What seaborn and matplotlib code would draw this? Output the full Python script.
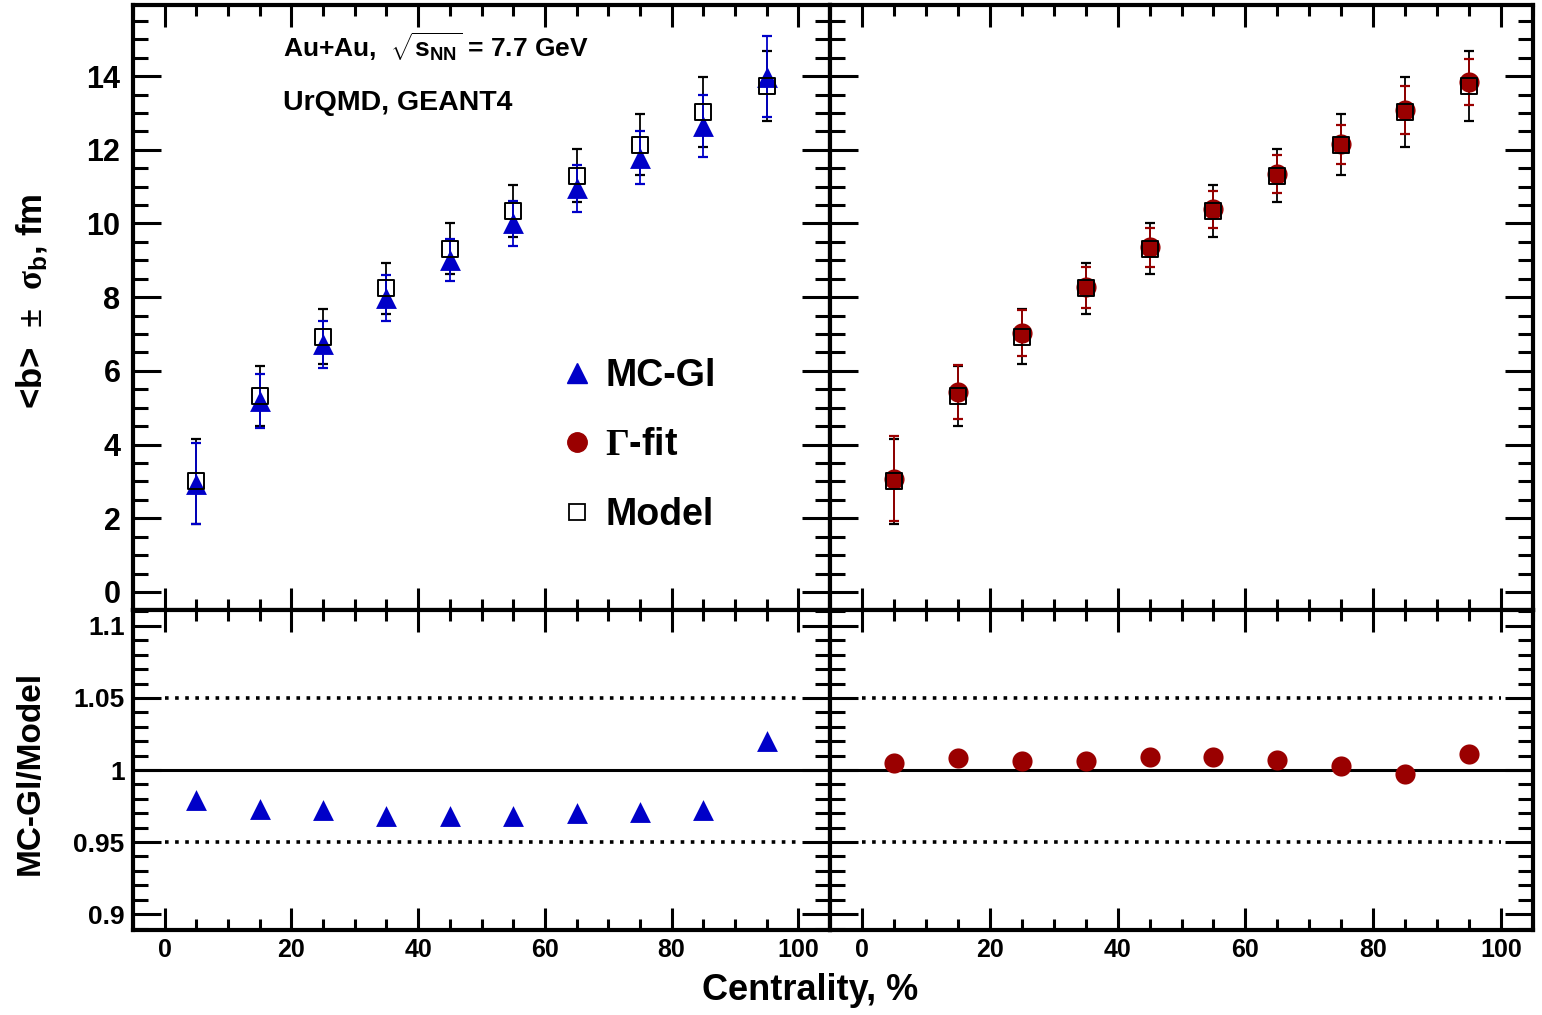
import numpy as np
import pandas as pd
import matplotlib
matplotlib.use("Agg")
import matplotlib.pyplot as plt
import seaborn as sns
from matplotlib.ticker import MultipleLocator, FuncFormatter
from matplotlib.lines import Line2D

# ---------------- data ----------------
centrality = [5, 15, 25, 35, 45, 55, 65, 75, 85, 95]
model_b = [3.00, 5.32, 6.93, 8.24, 9.32, 10.34, 11.29, 12.14, 13.02, 13.72]
model_sigma = [1.15, 0.82, 0.74, 0.69, 0.70, 0.70, 0.72, 0.82, 0.95, 0.95]
mcgl_b = [2.94, 5.18, 6.72, 7.97, 9.01, 10.00, 10.95, 11.79, 12.65, 13.98]
mcgl_sigma = [1.10, 0.74, 0.63, 0.62, 0.58, 0.60, 0.64, 0.72, 0.85, 1.10]
gfit_b = [3.07, 5.43, 7.02, 8.27, 9.36, 10.38, 11.34, 12.15, 13.08, 13.84]
gfit_sigma = [1.15, 0.73, 0.62, 0.56, 0.53, 0.51, 0.51, 0.53, 0.65, 0.62]
ratio_mcgl = [0.979, 0.973, 0.972, 0.968, 0.968, 0.968, 0.970, 0.971, 0.972, 1.020]
ratio_gfit = [1.005, 1.008, 1.006, 1.006, 1.009, 1.009, 1.007, 1.003, 0.997, 1.011]
ratio_ticks = [0.9, 0.95, 1.0, 1.05, 1.1]
band_levels = [0.95, 1.05]

df = pd.DataFrame({
    "centrality": centrality,
    "model": model_b, "model_sigma": model_sigma,
    "mcgl": mcgl_b, "mcgl_sigma": mcgl_sigma,
    "gfit": gfit_b, "gfit_sigma": gfit_sigma,
    "ratio_mcgl": ratio_mcgl, "ratio_gfit": ratio_gfit,
})

# ---------------- style ----------------
sns.set_theme(style="ticks")
plt.rcParams["font.family"] = ["Liberation Sans", "DejaVu Sans"]
plt.rcParams["font.weight"] = "bold"
plt.rcParams["text.color"] = "black"
plt.rcParams["axes.labelcolor"] = "black"
plt.rcParams["xtick.color"] = "black"
plt.rcParams["ytick.color"] = "black"
plt.rcParams["mathtext.fontset"] = "custom"
plt.rcParams["mathtext.rm"] = "Liberation Serif"
plt.rcParams["mathtext.it"] = "Liberation Serif"
plt.rcParams["mathtext.bf"] = "Liberation Sans:bold"
plt.rcParams["mathtext.sf"] = "Liberation Sans:bold"

BLUE = "#0000c8"
RED = "#9a0000"
BLACK = "black"

W, H = 1542, 1015
fig = plt.figure(figsize=(W / 100, H / 100), dpi=100)
fig.patch.set_facecolor("white")

xl, xm, xr = 133 / W, 830 / W, 1533 / W
y_top, y_mid, y_bot = 1 - 5 / H, 1 - 610 / H, 1 - 930 / H

ax_tl = fig.add_axes([xl, y_mid, xm - xl, y_top - y_mid])
ax_tr = fig.add_axes([xm, y_mid, xr - xm, y_top - y_mid])
ax_bl = fig.add_axes([xl, y_bot, xm - xl, y_mid - y_bot])
ax_br = fig.add_axes([xm, y_bot, xr - xm, y_mid - y_bot])

TRI_S = 15 ** 2
CIR_S = 14.5 ** 2
SQ_S = 11.5 ** 2

def errbars(ax, x, y, e, color, z):
    ax.errorbar(df[x], df[y], yerr=df[e], fmt="none", ecolor=color,
                elinewidth=1.3, capsize=3.5, capthick=1.6, zorder=z)

# top-left: MC-Gl vs Model
errbars(ax_tl, "centrality", "model", "model_sigma", BLACK, 2)
errbars(ax_tl, "centrality", "mcgl", "mcgl_sigma", BLUE, 3)
sns.scatterplot(data=df, x="centrality", y="mcgl", ax=ax_tl, marker="^",
                s=TRI_S, color=BLUE, edgecolor=BLUE, linewidth=0, zorder=4)
sns.scatterplot(data=df, x="centrality", y="model", ax=ax_tl, marker="s",
                s=SQ_S, color=BLACK, facecolor="none", edgecolor=BLACK,
                linewidth=1.4, zorder=5)

# top-right: Gamma-fit vs Model
errbars(ax_tr, "centrality", "model", "model_sigma", BLACK, 2)
errbars(ax_tr, "centrality", "gfit", "gfit_sigma", RED, 3)
sns.scatterplot(data=df, x="centrality", y="gfit", ax=ax_tr, marker="o",
                s=CIR_S, color=RED, edgecolor=RED, linewidth=0, zorder=4)
sns.scatterplot(data=df, x="centrality", y="model", ax=ax_tr, marker="s",
                s=SQ_S, color=BLACK, facecolor="none", edgecolor=BLACK,
                linewidth=1.4, zorder=5)

# ratios
for ax, col, mk, size, colr in [(ax_bl, "ratio_mcgl", "^", TRI_S, BLUE),
                                (ax_br, "ratio_gfit", "o", CIR_S, RED)]:
    ax.axhline(1.0, color=BLACK, lw=2.2, zorder=2)
    ax.hlines(band_levels, 0, 100, colors=BLACK, linestyles=[(0, (1, 1.8))],
              lw=2.6, zorder=2)
    sns.scatterplot(data=df, x="centrality", y=col, ax=ax, marker=mk, s=size,
                    color=colr, edgecolor=colr, linewidth=0, zorder=4)

# ---------------- axes formatting ----------------
for ax in (ax_tl, ax_tr, ax_bl, ax_br):
    ax.set_xlim(-5, 105)
    ax.set_facecolor("white")
    ax.set_xlabel("")
    ax.set_ylabel("")
    for sp in ax.spines.values():
        sp.set_visible(True)
        sp.set_linewidth(3.0)
        sp.set_color(BLACK)
    ax.xaxis.set_major_locator(MultipleLocator(20))
    ax.xaxis.set_minor_locator(MultipleLocator(5))
    ax.tick_params(which="both", direction="in", top=True, right=True,
                   width=2.2, color=BLACK, labelcolor=BLACK)
    ax.tick_params(which="major", length=16)
    ax.tick_params(which="minor", length=8)
    ax.tick_params(axis="y", which="major", length=20)
    ax.tick_params(axis="y", which="minor", length=11)
    ax.tick_params(axis="y", pad=9)
    ax.tick_params(axis="x", pad=6)

for ax in (ax_tl, ax_tr):
    ax.set_ylim(-0.49, 15.93)
    ax.yaxis.set_major_locator(MultipleLocator(2))
    ax.yaxis.set_minor_locator(MultipleLocator(0.5))
    ax.tick_params(labelbottom=False)

for ax in (ax_bl, ax_br):
    ax.set_ylim(0.889, 1.111)
    ax.set_yticks(ratio_ticks)
    ax.yaxis.set_minor_locator(MultipleLocator(0.01))
    ax.yaxis.set_major_formatter(FuncFormatter(lambda v, p: f"{v:g}"))
    ax.tick_params(axis="y", pad=6)

for ax in (ax_tr, ax_br):
    ax.tick_params(labelleft=False)

for lab in ax_tl.get_yticklabels():
    lab.set_fontsize(22)
    lab.set_fontweight("bold")
for lab in ax_bl.get_yticklabels():
    lab.set_fontsize(19)
    lab.set_fontweight("bold")
for ax in (ax_bl, ax_br):
    for lab in ax.get_xticklabels():
        lab.set_fontsize(18)
        lab.set_fontweight("bold")

# axis titles
ax_tl.set_ylabel(r"<b>  $\pm$  $\sigma_{\mathbf{b}}$, fm", fontsize=25,
                 fontweight="bold")
ax_tl.yaxis.set_label_coords(-0.145, 0.51)
ax_tl.yaxis.label.set_va("center")
ax_bl.set_ylabel("MC-Gl/Model", fontsize=24, fontweight="bold")
ax_bl.yaxis.set_label_coords(-0.148, 0.49)
ax_bl.yaxis.label.set_va("center")
fig.text(810 / W, 1 - 1000 / H, "Centrality, %", ha="center", va="baseline",
         fontsize=26, fontweight="bold")

# annotation
ax_tl.text(0.215, 0.914, r"Au+Au,  $\sqrt{\mathbf{s}_{\mathbf{NN}}}$ = 7.7 GeV",
           transform=ax_tl.transAxes, fontsize=19, fontweight="bold",
           va="baseline", ha="left")
ax_tl.text(0.215, 0.826, "UrQMD, GEANT4", transform=ax_tl.transAxes,
           fontsize=20.5, fontweight="bold", va="baseline", ha="left")

# legend
handles = [
    Line2D([], [], ls="", marker="^", ms=15, color=BLUE, mec=BLUE),
    Line2D([], [], ls="", marker="o", ms=14, color=RED, mec=RED),
    Line2D([], [], ls="", marker="s", ms=11, mfc="white", mec=BLACK, mew=1.3),
]
labels = ["MC-Gl", r"$\Gamma$-fit", "Model"]
leg = ax_tl.legend(handles, labels, loc="upper left",
                   bbox_to_anchor=(0.61, 0.417), frameon=False,
                   prop={"size": 27, "weight": "bold"}, handlelength=1.0,
                   handletextpad=0.25, labelspacing=0.9, borderpad=0,
                   borderaxespad=0)

fig.savefig("out.png", dpi=100, facecolor="white")
